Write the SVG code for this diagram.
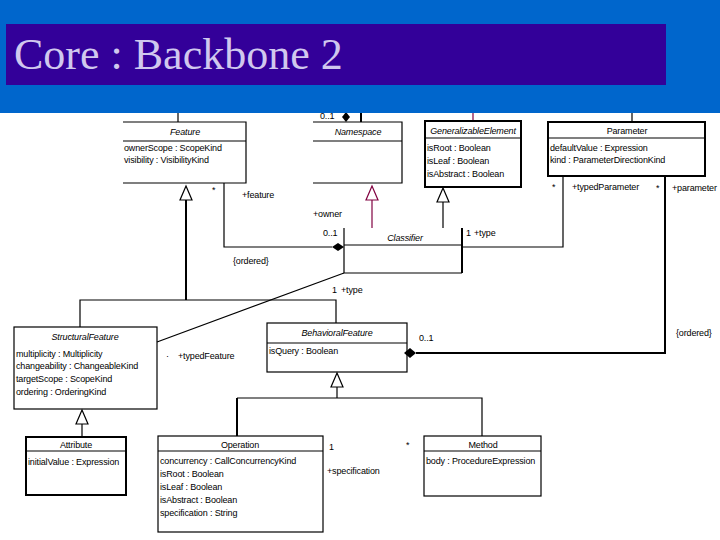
<svg xmlns="http://www.w3.org/2000/svg" width="720" height="540" viewBox="0 0 720 540">
<style>
.t{font-family:"Liberation Sans",Arial,sans-serif;font-size:9px;letter-spacing:-0.15px;fill:#000}
.i{font-style:italic}
.m{text-anchor:middle}
.b{fill:none;stroke:#000;stroke-width:1.2}
.bb{fill:none;stroke:#000;stroke-width:2}
.c{fill:none;stroke:#000;stroke-width:1.2}
.ct{fill:none;stroke:#000;stroke-width:2}
.g{fill:#fff;stroke:#000;stroke-width:1.2}
.gm{fill:#fff;stroke:#800040;stroke-width:1.2}
</style>
<rect width="720" height="540" fill="#fff"/>

<g id="connectors">
  <!-- stubs going up -->
  <line class="c" x1="178" y1="105" x2="178" y2="122"/>
  <line class="ct" x1="361" y1="105" x2="361" y2="122"/>
  <path d="M346 112 L350 117 L346 122 L342 117 Z" fill="#000"/>
  <text class="t" x="320" y="119" font-size="8">0..1</text>
  <line x1="473" y1="105" x2="473" y2="121" stroke="#800040" stroke-width="1.2"/>
  <line class="c" x1="632" y1="105" x2="632" y2="122"/>

  <!-- Feature to Classifier (composition) -->
  <polyline class="c" points="224,183 224,247 332,247"/>
  <path d="M332 247 L338 243 L344 247 L338 251 Z" fill="#000"/>
  <text class="t" x="212" y="193">*</text>
  <text class="t" x="242" y="198">+feature</text>
  <text class="t" x="313" y="217">+owner</text>
  <text class="t" x="323" y="236" font-size="10">0..1</text>
  <text class="t" x="233" y="264">{ordered}</text>

  <!-- Classifier generalizations -->
  <line x1="372" y1="200" x2="372" y2="228" stroke="#800040" stroke-width="1.2"/>
  <path class="gm" d="M372 186 L378 200 L366 200 Z"/>
  <line class="c" x1="443" y1="202" x2="443" y2="228"/>
  <path class="g" d="M443 188 L449 202 L437 202 Z"/>
  <text class="t" x="466" y="236">1</text>
  <text class="t" x="474" y="236">+type</text>

  <!-- Classifier to typedParameter -->
  <polyline class="c" points="462,247 563,247 563,176"/>
  <text class="t" x="552" y="190">*</text>
  <text class="t" x="572" y="190">+typedParameter</text>
  <text class="t" x="656" y="191">*</text>
  <text class="t" x="672" y="191">+parameter</text>

  <!-- BehavioralFeature to Parameter -->
  <polyline class="ct" points="416,353 665,353 665,176"/>
  <path d="M404 353 L410 348 L416 353 L410 358 Z" fill="#000"/>
  <text class="t" x="419" y="341" font-size="10">0..1</text>
  <text class="t" x="676" y="336">{ordered}</text>

  <!-- StructuralFeature to Classifier (type) -->
  <line class="c" x1="157" y1="342" x2="344" y2="273"/>
  <text class="t" x="332" y="293" font-size="10">1</text>
  <text class="t" x="341" y="293">+type</text>
  <text class="t" x="166" y="359">·</text>
  <text class="t" x="178" y="359">+typedFeature</text>

  <!-- Generalization to Feature -->
  <polyline class="c" points="80,327 80,300 336,300 336,323"/>
  <line class="ct" x1="186" y1="200" x2="186" y2="300"/>
  <path class="g" d="M186 186 L192 200 L180 200 Z"/>

  <!-- Generalization to StructuralFeature -->
  <line class="c" x1="82" y1="424" x2="82" y2="437"/>
  <path class="g" d="M82 410 L88 424 L76 424 Z"/>

  <!-- Generalization to BehavioralFeature -->
  <polyline class="c" points="337,387 337,398"/>
  <path class="g" d="M337 373 L343 387 L331 387 Z"/>
  <line class="ct" x1="237" y1="398" x2="237" y2="436"/>
  <polyline class="c" points="237,398 482,398 482,436"/>

  <!-- Operation - Method -->
  <text class="t" x="329" y="450" font-size="10">1</text>
  <text class="t" x="327" y="474">+specification</text>
  <text class="t" x="406" y="448">*</text>
</g>

<g id="Feature">
  <path class="b" d="M123 122 H246 V183 H123 M123 141 H246"/>
  <text class="t i m" x="185" y="135">Feature</text>
  <text class="t" x="124" y="151">ownerScope : ScopeKind</text>
  <text class="t" x="124" y="163">visibility : VisibilityKind</text>
</g>

<g id="Namespace">
  <path class="b" d="M313 122 H402 V183 H313 M313 141 H402"/>
  <text class="t i m" x="358" y="135">Namespace</text>
</g>

<g id="GeneralizableElement">
  <rect class="bb" x="425" y="121" width="96" height="66"/>
  <line class="b" x1="425" y1="138" x2="521" y2="138"/>
  <text class="t i m" x="473" y="134">GeneralizableElement</text>
  <text class="t" x="427" y="151">isRoot : Boolean</text>
  <text class="t" x="427" y="164">isLeaf : Boolean</text>
  <text class="t" x="427" y="177">isAbstract : Boolean</text>
</g>

<g id="Parameter">
  <rect class="bb" x="548" y="122" width="157" height="54"/>
  <line class="b" x1="548" y1="138" x2="705" y2="138"/>
  <text class="t m" x="627" y="134">Parameter</text>
  <text class="t" x="550" y="151">defaultValue : Expression</text>
  <text class="t" x="550" y="163">kind : ParameterDirectionKind</text>
</g>

<g id="Classifier">
  <path class="b" d="M344 228 V273 H462 M344 245 H462"/>
  <line class="ct" x1="462" y1="228" x2="462" y2="273"/>
  <text class="t i m" x="405" y="241">Classifier</text>
</g>

<g id="StructuralFeature">
  <rect class="b" x="14" y="327" width="143" height="82"/>
  <text class="t i m" x="85" y="340">StructuralFeature</text>
  <text class="t" x="16" y="357">multiplicity : Multiplicity</text>
  <text class="t" x="16" y="369">changeability : ChangeableKind</text>
  <text class="t" x="16" y="382">targetScope : ScopeKind</text>
  <text class="t" x="16" y="395">ordering : OrderingKind</text>
</g>

<g id="BehavioralFeature">
  <rect class="b" x="267" y="323" width="140" height="49"/>
  <line class="b" x1="267" y1="343" x2="407" y2="343"/>
  <text class="t i m" x="337" y="336">BehavioralFeature</text>
  <text class="t" x="269" y="354">isQuery : Boolean</text>
</g>

<g id="Attribute">
  <rect class="bb" x="26" y="437" width="100" height="58"/>
  <line class="b" x1="26" y1="451" x2="126" y2="451"/>
  <text class="t m" x="76" y="448">Attribute</text>
  <text class="t" x="28" y="465">initialValue : Expression</text>
</g>

<g id="Operation">
  <rect class="b" x="158" y="436" width="165" height="96"/>
  <line class="b" x1="158" y1="451" x2="323" y2="451"/>
  <text class="t m" x="240" y="448">Operation</text>
  <text class="t" x="160" y="464">concurrency : CallConcurrencyKind</text>
  <text class="t" x="160" y="477">isRoot : Boolean</text>
  <text class="t" x="160" y="490">isLeaf : Boolean</text>
  <text class="t" x="160" y="503">isAbstract : Boolean</text>
  <text class="t" x="160" y="516">specification : String</text>
</g>

<g id="Method">
  <rect class="b" x="424" y="436" width="117" height="60"/>
  <line class="b" x1="424" y1="451" x2="541" y2="451"/>
  <text class="t m" x="483" y="448">Method</text>
  <text class="t" x="426" y="464">body : ProcedureExpression</text>
</g>

<g id="title">
  <rect x="0" y="0" width="720" height="113" fill="#0066CC"/>
  <rect x="6" y="24" width="660" height="61" fill="#330099"/>
  <text x="14" y="69" font-family="'Liberation Serif','Times New Roman',serif" font-size="44" fill="#D0C8EE">Core : Backbone 2</text>
</g>
</svg>
